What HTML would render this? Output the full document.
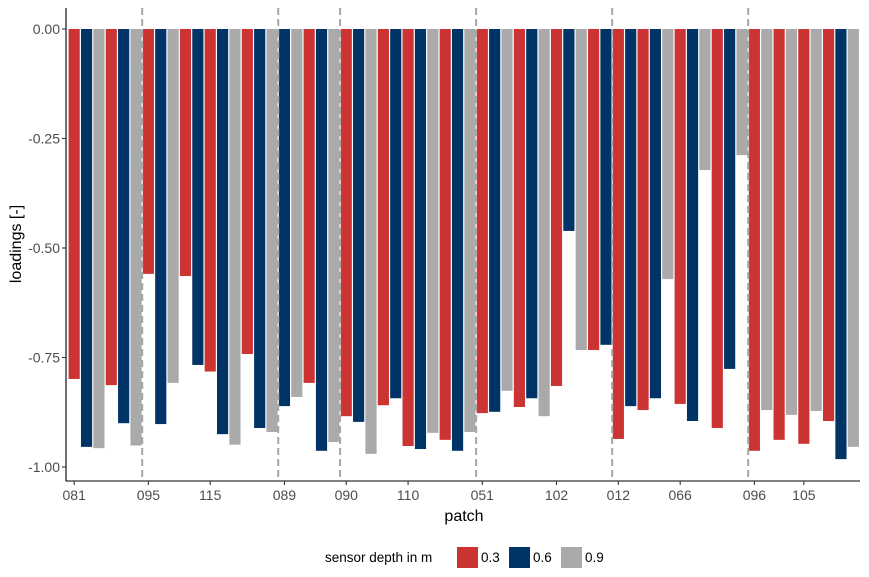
<!DOCTYPE html>
<html><head><meta charset="utf-8">
<style>
body{margin:0;background:#fff;}
svg{display:block;font-family:"Liberation Sans",Arial,sans-serif;}
</style></head>
<body>
<svg id="chart" width="869" height="577" viewBox="0 0 869 577" xmlns="http://www.w3.org/2000/svg">
<g id="bars"></g>
<g id="vlines"></g>
<g id="axes"></g>
<text transform="translate(21,244) rotate(-90)" text-anchor="middle" font-size="16" fill="#000">loadings [-]</text>
<text x="464" y="521" text-anchor="middle" font-size="16" fill="#000">patch</text>
<g>
<text x="325" y="562" font-size="13.5" fill="#000">sensor depth in m</text>
<rect x="457" y="547" width="21" height="21" fill="#CC3333"/>
<text x="481" y="562" font-size="13.5" fill="#000">0.3</text>
<rect x="509" y="547" width="21" height="21" fill="#003366"/>
<text x="533" y="562" font-size="13.5" fill="#000">0.6</text>
<rect x="561" y="547" width="21" height="21" fill="#AAAAAA"/>
<text x="585" y="562" font-size="13.5" fill="#000">0.9</text>
</g>
</svg>
<script>
const seriesNames = ["0.3","0.6","0.9"];
const seriesColors = ["#CC3333","#003366","#AAAAAA"];
const barSeries = [0,1,2,0,1,2, 0,1,2,0,1,0,1,2,0,1,2, 1,2,0,1,2, 0,1,2,0,1,0,1,2,0,1,2, 0,1,2,0,1,2,0,1,2,0,1, 0,1,0,1,2,0,1,2,0,1,2, 0,2,0,2,0,2,0,1,2];
const barValues = [-0.799,-0.954,-0.957,-0.813,-0.900,-0.951,
 -0.559,-0.902,-0.808,-0.564,-0.767,-0.782,-0.925,-0.949,-0.742,-0.911,-0.920,
 -0.861,-0.840,-0.808,-0.963,-0.943,
 -0.884,-0.897,-0.970,-0.859,-0.843,-0.952,-0.959,-0.922,-0.938,-0.963,-0.920,
 -0.877,-0.874,-0.826,-0.863,-0.843,-0.884,-0.815,-0.461,-0.733,-0.733,-0.721,
 -0.936,-0.861,-0.870,-0.843,-0.571,-0.856,-0.895,-0.322,-0.911,-0.776,-0.288,
 -0.963,-0.870,-0.938,-0.881,-0.947,-0.872,-0.895,-0.982,-0.954];
const tickLabels = ["081","095","115","089","090","110","051","102","012","066","096","105"];
const tickBarIndex = [0,6,11,17,22,27,33,39,44,49,55,59];
const separatorBarIndex = [6,17,22,33,44,55];
const yTicks = [0,-0.25,-0.5,-0.75,-1];
const yTickLabels = ["0.00","-0.25","-0.50","-0.75","-1.00"];

const NS="http://www.w3.org/2000/svg";
const x0=68, x1=859.5, nBars=barValues.length, bw=(x1-x0)/nBars;
function xPos(i){return x0+i*bw;}
function yPos(v){return 29+(-v)*438;}
function mk(tag,attrs,parent){const e=document.createElementNS(NS,tag);for(const k in attrs)e.setAttribute(k,attrs[k]);parent.appendChild(e);return e;}

const gB=document.getElementById('bars');
barValues.forEach((v,i)=>{
  const r=mk('rect',{x:xPos(i)+0.6,y:yPos(0),width:bw-1.2,height:yPos(v)-yPos(0),fill:seriesColors[barSeries[i]]},gB);
  
  
});
const gV=document.getElementById('vlines');
separatorBarIndex.forEach((b,i)=>{
  const l=mk('line',{x1:xPos(b),x2:xPos(b),y1:8,y2:481,stroke:'#A6A6A6','stroke-width':2,'stroke-dasharray':'7,4'},gV);
  
  
});
const gA=document.getElementById('axes');
const ya=mk('line',{x1:66,x2:66,y1:8,y2:481.5,stroke:'#000','stroke-width':1.1},gA);


const xa=mk('line',{x1:65.5,x2:860,y1:481,y2:481,stroke:'#000','stroke-width':1.1},gA);


yTicks.forEach((v,i)=>{
  const y=yPos(v);
  const t=mk('line',{x1:62,x2:66,y1:y,y2:y,stroke:'#333','stroke-width':1.1},gA);
  
  
  const tx=mk('text',{x:60,y:y+5,'text-anchor':'end','font-size':14,fill:'#4D4D4D'},gA);
  tx.textContent=yTickLabels[i];
  
  
});
tickLabels.forEach((lab,i)=>{
  const x=xPos(tickBarIndex[i]+0.5);
  const t=mk('line',{x1:x,x2:x,y1:481,y2:485,stroke:'#333','stroke-width':1.1},gA);
  
  
  const tx=mk('text',{x:x,y:500,'text-anchor':'middle','font-size':14,fill:'#4D4D4D'},gA);
  tx.textContent=lab;
  
  
});
</script>
</body></html>
